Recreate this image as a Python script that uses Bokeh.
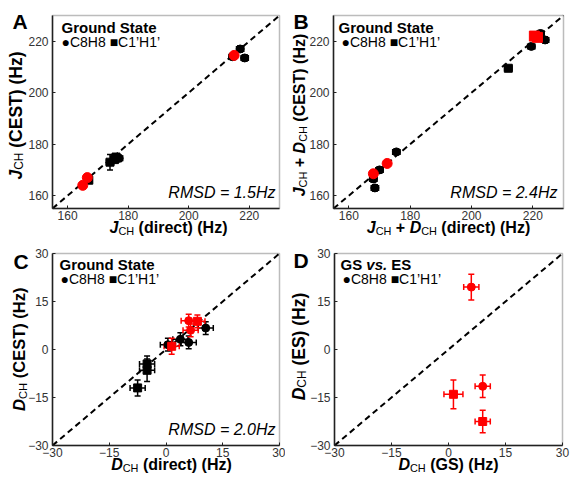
import math
from bokeh.plotting import figure
from bokeh.models import (Range1d, Whisker, TeeHead, Label, ColumnDataSource, LinearAxis,
                          BoxAnnotation, FixedTicker)
from bokeh.layouts import column, row
from bokeh.embed import file_html
from bokeh.resources import INLINE

# ---------------- data ----------------
# Panel A: J_CH direct vs CEST
a_x    = [217.0, 218.5, 214.5, 167.0, 174.0, 176.0, 177.0, 175.5, 215.0, 165.0, 166.5]
a_y    = [217.0, 213.5, 214.0, 166.0, 173.0, 175.0, 174.5, 174.0, 214.5, 164.0, 167.0]
a_xerr = [1.2, 1.2, 1.2, 1.0, 1.2, 1.2, 1.2, 1.2, 0.0, 0.0, 0.0]
a_yerr = [1.2, 1.2, 1.2, 1.0, 3.0, 1.2, 1.2, 1.2, 0.0, 0.0, 0.0]
a_site = ["C8H8", "C8H8", "C8H8", "C1'H1'", "C1'H1'", "C1'H1'", "C8H8", "C1'H1'", "C8H8", "C8H8", "C8H8"]
a_es   = [0, 0, 0, 0, 0, 0, 0, 0, 1, 1, 1]

# Panel B: J_CH + D_CH direct vs CEST
b_x    = [170.0, 168.5, 168.0, 175.5, 212.0, 219.5, 222.5, 224.0, 168.0, 172.5, 220.5, 221.5]
b_y    = [170.0, 163.0, 166.5, 177.0, 209.5, 218.0, 223.0, 220.5, 168.5, 172.5, 222.0, 221.5]
b_xerr = [1.2, 1.2, 1.2, 1.2, 1.2, 1.2, 1.2, 1.2, 0.0, 0.0, 1.2, 1.2]
b_yerr = [1.2, 1.2, 1.2, 1.0, 1.0, 1.0, 1.2, 1.2, 0.0, 0.0, 1.2, 1.2]
b_site = ["C8H8", "C8H8", "C8H8", "C8H8", "C1'H1'", "C8H8", "C8H8", "C8H8", "C8H8", "C8H8", "C1'H1'", "C1'H1'"]
b_es   = [0, 0, 0, 0, 0, 0, 0, 0, 1, 1, 1, 1]

# Panel C: D_CH direct vs CEST
c_x    = [-7.5, -5.0, -5.0, 0.5, 3.8, 6.0, 10.5, 1.5, 6.5, 6.0, 8.3]
c_y    = [-12.0, -4.5, -6.5, 1.5, 3.2, 2.2, 6.7, 1.0, 6.0, 9.0, 8.8]
c_xerr = [2.0, 2.0, 2.0, 2.0, 2.0, 2.0, 2.0, 2.0, 2.0, 2.0, 2.0]
c_yerr = [2.5, 2.5, 3.5, 2.0, 2.0, 2.0, 2.0, 2.5, 2.0, 2.0, 2.0]
c_site = ["C1'H1'", "C1'H1'", "C1'H1'", "C8H8", "C8H8", "C8H8", "C8H8", "C1'H1'", "C8H8", "C8H8", "C1'H1'"]
c_es   = [0, 0, 0, 0, 0, 0, 0, 1, 1, 1, 1]

# Panel D: D_CH GS vs ES
d_x    = [6.0, 1.3, 9.0, 9.0]
d_y    = [19.5, -14.0, -11.5, -22.5]
d_xerr = [2.0, 2.5, 2.0, 2.0]
d_yerr = [4.0, 4.5, 3.5, 3.5]
d_site = ["C8H8", "C1'H1'", "C8H8", "C1'H1'"]
d_es   = [1, 1, 1, 1]

j_ticks = [160, 180, 200, 220]
d_ticks = [-30, -15, 0, 15, 30]
j_range = (155, 230)
d_range = (-30, 30)

rmsd_a, rmsd_b, rmsd_c = "RMSD = 1.5Hz", "RMSD = 2.4Hz", "RMSD = 2.0Hz"

# ---------------- helpers ----------------
FONT = "Liberation Sans"
BOLD = {' ': 278, '(': 333, ')': 333, '+': 584, 'C': 722, 'D': 722, 'E': 667, 'H': 722,
        'J': 556, 'S': 667, 'T': 611, 'G': 778, 'c': 556, 'd': 611, 'e': 556, 'i': 278,
        'r': 389, 't': 333, 'z': 500, 'v': 556, 's': 556, '.': 278}
REG = {'C': 722, 'H': 722}
GEO = {}
AX = "#222222"
BASE_FIX = 0.38   # renderer places the alphabetic baseline ~0.38 em low


def tw(s, size, table):
    return sum(table.get(ch, 556) for ch in s) * size / 1000.0


def make_fig(W, H, L, R, T, B, box, ticks):
    fw, fh = W - L - R, H - T - B
    sx = (box[1] - box[0]) / fw
    sy = (box[1] - box[0]) / fh
    xr = (box[0] - L * sx, box[1] + R * sx)
    yr = (box[0] - B * sy, box[1] + T * sy)
    p = figure(width=W, height=H, x_range=Range1d(*xr), y_range=Range1d(*yr),
               output_backend="svg", toolbar_location=None, title=None,
               x_axis_location=None, y_axis_location=None,
               min_border=0, min_border_left=0, min_border_right=0,
               min_border_top=0, min_border_bottom=0)
    GEO[id(p)] = (W, H, xr, yr)
    p.grid.visible = False
    p.outline_line_color = None
    p.background_fill_color = "white"
    p.border_fill_color = "white"
    for loc in ("below", "left"):
        ax = LinearAxis(fixed_location=box[0], bounds=box, ticker=FixedTicker(ticks=ticks))
        ax.axis_line_color = AX
        ax.axis_line_width = 1.5
        ax.major_tick_in = 3
        ax.major_tick_out = 0
        ax.major_tick_line_color = AX
        ax.major_tick_line_width = 1
        ax.minor_tick_line_color = None
        ax.major_label_text_font = FONT
        ax.major_label_text_font_size = "12px"
        ax.major_label_text_color = "#333333"
        ax.major_label_standoff = 2 if loc == "below" else 4
        p.add_layout(ax, loc)
    p.add_layout(BoxAnnotation(left=box[0], right=box[1], bottom=box[0], top=box[1],
                               fill_alpha=0, line_color=AX, line_width=1.5))
    p.line(x=list(box), y=list(box), line_color="black", line_width=2, line_dash="6 4")
    return p


def to_data(p, px, py):
    W, H, xr, yr = GEO[id(p)]
    x = xr[0] + px / W * (xr[1] - xr[0])
    y = yr[1] - py / H * (yr[1] - yr[0])
    return x, y


def label(p, text, px, py, size, style="normal", align="left", vertical=False, color="black"):
    if vertical:
        px -= BASE_FIX * size
    else:
        py -= BASE_FIX * size
    x, y = to_data(p, px, py)
    p.add_layout(Label(x=x, y=y, text=text, text_font=FONT, text_font_size=f"{size}px",
                       text_font_style=style, text_align=align, text_baseline="alphabetic",
                       angle=math.pi / 2 if vertical else 0.0, text_color=color))


def rich(p, segs, cx, cy, size, vertical=False, center=True):
    """segs: list of (text, kind) with kind in 'bi', 'b', 'sub'"""
    sub = round(size * 0.68, 1)
    widths = []
    for t, k in segs:
        widths.append(tw(t, sub if k == "sub" else size, REG if k == "sub" else BOLD))
    total = sum(widths)
    pos = -total / 2.0 if center else 0.0
    for (t, k), w in zip(segs, widths):
        fs = sub if k == "sub" else size
        st = {"bi": "bold italic", "b": "bold", "sub": "normal"}[k]
        shift = 3.5 - BASE_FIX * (size - sub) if k == "sub" else 0
        lead = len(t) - len(t.lstrip(" "))
        off = tw(" " * lead, fs, BOLD)
        txt = t.strip(" ")
        if vertical:
            label(p, txt, cx + shift, cy - pos - off, fs, st, vertical=True)
        else:
            label(p, txt, cx + pos + off, cy + shift, fs, st)
        pos += w


def header(p, letter, lx, lby, title_segs, gx, gby, legx, legby):
    label(p, letter, lx, lby, 21, "bold")
    rich(p, title_segs, gx, gby, 15, center=False)
    label(p, "\u25cfC8H8 \u25a0C1\u2019H1\u2019", legx, legby, 14)


def draw_points(p, xs, ys, xe, ye, site, es, big):
    for flag, col, sz in ((0, "black", 8), (1, "red", big)):
        for s, mk in (("C8H8", "circle"), ("C1'H1'", "square")):
            idx = [i for i in range(len(xs)) if es[i] == flag and site[i] == s]
            if not idx:
                continue
            src = ColumnDataSource(dict(
                x=[xs[i] for i in idx], y=[ys[i] for i in idx],
                xl=[xs[i] - xe[i] for i in idx], xu=[xs[i] + xe[i] for i in idx],
                yl=[ys[i] - ye[i] for i in idx], yu=[ys[i] + ye[i] for i in idx]))
            if any(xe[i] > 0 or ye[i] > 0 for i in idx):
                for base, lo, up, dim in (("x", "yl", "yu", "height"), ("y", "xl", "xu", "width")):
                    p.add_layout(Whisker(source=src, base=base, lower=lo, upper=up,
                                         dimension=dim, line_color=col, line_width=1.5,
                                         lower_head=TeeHead(size=6, line_color=col, line_width=1.5),
                                         upper_head=TeeHead(size=6, line_color=col, line_width=1.5)))
            p.scatter("x", "y", source=src, marker=mk, size=sz, color=col)


J = [("J", "bi"), ("CH", "sub")]
JD = [("J", "bi"), ("CH", "sub"), (" + ", "b"), ("D", "bi"), ("CH", "sub")]
D = [("D", "bi"), ("CH", "sub")]
GS_TITLE = [("Ground State", "b")]

# ---------------- Panel A ----------------
pa = make_fig(285, 237, 52, 6, 15, 29, j_range, j_ticks)
draw_points(pa, a_x, a_y, a_xerr, a_yerr, a_site, a_es, 10)
header(pa, "A", 12, 29, GS_TITLE, 61, 33, 61, 47)
label(pa, rmsd_a, 275, 198, 16, "italic", align="right")
rich(pa, J + [(" (direct) (Hz)", "b")], 168, 233, 16)
rich(pa, J + [(" (CEST) (Hz)", "b")], 22, 115, 17.5, vertical=True)

# ---------------- Panel B ----------------
pb = make_fig(285, 237, 48, 7, 15, 29, j_range, j_ticks)
draw_points(pb, b_x, b_y, b_xerr, b_yerr, b_site, b_es, 10)
header(pb, "B", 8, 29, GS_TITLE, 53, 33, 56, 47)
label(pb, rmsd_b, 272, 198, 16, "italic", align="right")
rich(pb, JD + [(" (direct) (Hz)", "b")], 163, 233, 16)
rich(pb, JD + [(" (CEST) (Hz)", "b")], 20, 114.5, 16, vertical=True)

# ---------------- Panel C ----------------
pc = make_fig(285, 240, 52, 6, 16, 32, d_range, d_ticks)
draw_points(pc, c_x, c_y, c_xerr, c_yerr, c_site, c_es, 8)
header(pc, "C", 13, 32, GS_TITLE, 59, 33, 60, 47)
label(pc, rmsd_c, 275, 198, 16, "italic", align="right")
rich(pc, D + [(" (direct) (Hz)", "b")], 171, 233, 16)
rich(pc, D + [(" (CEST) (Hz)", "b")], 25, 111.7, 16.5, vertical=True)

# ---------------- Panel D ----------------
pd_ = make_fig(285, 240, 49, 8, 16, 32, d_range, d_ticks)
draw_points(pd_, d_x, d_y, d_xerr, d_yerr, d_site, d_es, 8)
header(pd_, "D", 8, 31, [("GS ", "b"), ("vs.", "bi"), (" ES", "b")], 55, 33, 57, 47)
rich(pd_, D + [(" (GS) (Hz)", "b")], 163, 233, 16)
rich(pd_, D + [(" (ES) (Hz)", "b")], 20, 109, 17.5, vertical=True)

layout = column(row(pa, pb), row(pc, pd_))
open("out.html", "w").write(file_html(layout, INLINE))
